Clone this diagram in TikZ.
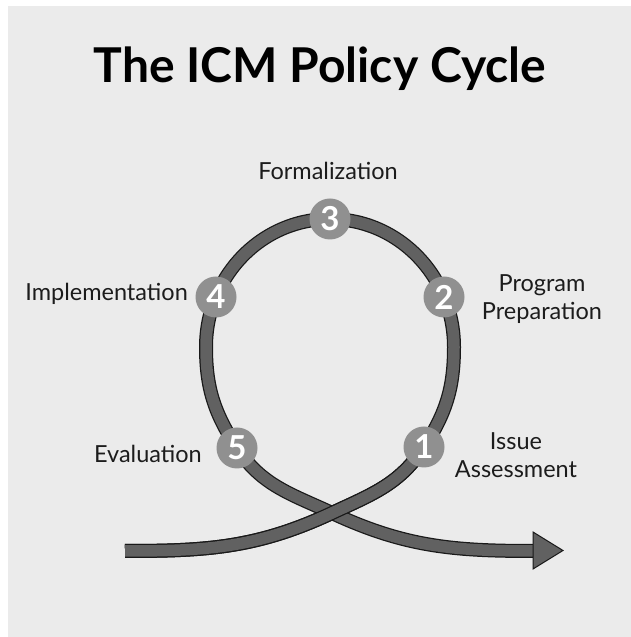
\documentclass[tikz,border=0pt]{standalone}
\usepackage{fontspec}
\setmainfont{Lato}
\definecolor{bgc}{HTML}{EBEBEB}
\definecolor{bandc}{HTML}{616161}
\definecolor{badgec}{HTML}{909090}
\definecolor{txtc}{HTML}{1C1C1C}
\tikzset{
  badge/.style={circle, fill=badgec, minimum size=41pt, inner sep=0pt, text=white, font=\bfseries\fontsize{33}{33}\selectfont},
  lbl/.style={text=txtc, font=\fontsize{23.5}{28}\selectfont, inner sep=0pt, align=center},
  bandout/.style={line width=14pt, draw=black!90},
  bandin/.style={line width=11.5pt, draw=bandc},
}
\begin{document}
\begin{tikzpicture}[x=1pt,y=1pt]
\useasboundingbox (0,0) rectangle (631,637);
\fill[bgc] (8,0) rectangle (631,631);
\node[text=black, font=\bfseries\fontsize{48}{52}\selectfont, inner sep=0pt] (title) at (320,568) {The ICM Policy Cycle};
% key points of the band
\coordinate (S) at (125,86);
\coordinate (C) at (332,124);
\coordinate (P1) at (424,190);
\coordinate (R) at (454,290);
\coordinate (P5) at (237,189);
\coordinate (E) at (535,86);
% full band
\foreach \st in {bandout,bandin}{
  \path[\st] (S) to[out=0,in=205] (C) to[out=25,in=237] (P1) to[out=57,in=270] (R)
    arc[x radius=124, y radius=128, start angle=0, end angle=180]
    to[out=270,in=123] (P5) to[out=-57,in=155] (C) to[out=-25,in=180] (E);
}
% rising part on top at the crossing
\foreach \st in {bandout,bandin}{
  \path[\st] (S) to[out=0,in=205] (C) to[out=25,in=237] (P1);
}
% arrow head
\filldraw[fill=bandc, draw=black!90, line width=1pt, line join=miter] (533,105) -- (563,86.5) -- (533,68) -- cycle;
% badges
\node[badge] (b1) at (P1) {1};
\node[badge] (b2) at (444,340) {2};
\node[badge] (b3) at (330,418) {3};
\node[badge] (b4) at (216,340) {4};
\node[badge] (b5) at (P5) {5};
% labels
\node[lbl] (l3) at (328,466) {Formalization};
\node[lbl, anchor=east] (l4) at (188,343) {Implementation};
\node[lbl] (l2) at (542,338) {Program\\Preparation};
\node[lbl, anchor=east] (l5) at (202,183) {Evaluation};
\node[lbl] (l1) at (516,182) {Issue\\Assessment};
\end{tikzpicture}
\end{document}
